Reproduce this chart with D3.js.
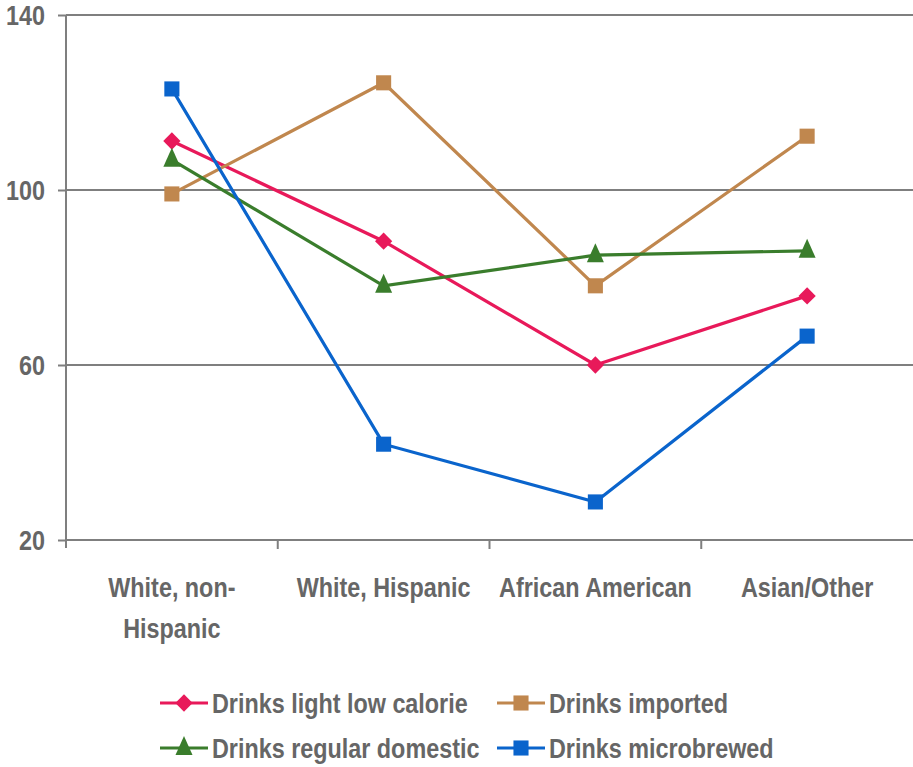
<!DOCTYPE html>
<html>
<head>
<meta charset="utf-8">
<script src="https://cdn.jsdelivr.net/npm/d3@7"></script>
<style>
  body { margin: 0; background: #fff; }
  text { font-family: "Liberation Sans", Arial, sans-serif; font-weight: bold; fill: #666; }
</style>
</head>
<body>
<svg id="chart"></svg>
<script>
// categories and series values
const categories = ["White, non-Hispanic", "White, Hispanic", "African American", "Asian/Other"];
const lightLowCalorie = [111.2, 88.3, 60, 75.8];
const imported = [99.1, 124.5, 78.1, 112.3];
const regularDomestic = [106.9, 78.1, 85.1, 86.1];
const microbrewed = [123.1, 41.9, 28.7, 66.6];
const yTicks = [20, 60, 100, 140];

const series = [
    {name: "Drinks light low calorie", values: lightLowCalorie, color: "#e8195a", shape: "diamond"},
    {name: "Drinks imported", values: imported, color: "#c0874e", shape: "square"},
    {name: "Drinks regular domestic", values: regularDomestic, color: "#3a7d2c", shape: "triangle"},
    {name: "Drinks microbrewed", values: microbrewed, color: "#0a64cc", shape: "square"}
];

const width = 913, height = 767;
const margin = {top: 15, right: 0, bottom: 227, left: 66};
const FONT = 28.5;
const NARROW = 0.82; // squeeze the text like a narrow font

const svg = d3.select("#chart")
    .attr("width", width)
    .attr("height", height);

const x = d3.scaleBand()
    .domain(categories)
    .range([margin.left, width - margin.right]);

const y = d3.scaleLinear()
    .domain([20, 140])
    .range([height - margin.bottom, margin.top]);

// gridlines
svg.append("g")
    .selectAll("line")
    .data(yTicks.filter(d => d !== 20))
    .join("line")
    .attr("x1", margin.left)
    .attr("x2", width - margin.right)
    .attr("y1", d => y(d))
    .attr("y2", d => y(d))
    .attr("stroke", "#7f7f7f")
    .attr("stroke-width", 2);

// y axis
const yAxis = svg.append("g")
    .attr("transform", `translate(${margin.left},0)`)
    .call(d3.axisLeft(y).tickValues(yTicks).tickSize(8));
yAxis.select(".domain").attr("stroke", "#7f7f7f").attr("stroke-width", 2)
    .attr("d", `M0,${y(140)}V${y(20) + 8}`);
yAxis.selectAll(".tick line").attr("stroke", "#7f7f7f").attr("stroke-width", 2);
yAxis.selectAll(".tick text")
    .attr("x", 0)
    .attr("transform", `translate(-21,0) scale(${NARROW},1)`)
    .style("font-size", FONT + "px");

// x axis
const xAxis = svg.append("g")
    .attr("transform", `translate(0,${y(20)})`)
    .call(d3.axisBottom(x).tickSize(0).tickFormat(""));
xAxis.select(".domain").attr("stroke", "#7f7f7f").attr("stroke-width", 2)
    .attr("d", `M${margin.left},0H${width}`);

// category separators
svg.append("g")
    .selectAll("line")
    .data(categories.slice(1))
    .join("line")
    .attr("x1", d => x(d))
    .attr("x2", d => x(d))
    .attr("y1", y(20))
    .attr("y2", y(20) + 9)
    .attr("stroke", "#7f7f7f")
    .attr("stroke-width", 2);

// category labels, wrapping the first one like the original
const catLines = {"White, non-Hispanic": ["White, non-", "Hispanic"]};
svg.append("g")
    .selectAll("g")
    .data(categories)
    .join("g")
    .attr("transform", d => `translate(${x(d) + x.bandwidth() / 2},${y(20) + 57}) scale(${NARROW},1)`)
    .each(function(d) {
        const lines = catLines[d] || [d];
        d3.select(this).selectAll("text")
            .data(lines)
            .join("text")
            .attr("text-anchor", "middle")
            .attr("y", (l, i) => i * 41)
            .style("font-size", FONT + "px")
            .text(l => l);
    });

function symbolPath(shape) {
    if (shape === "diamond") return d3.symbol(d3.symbolDiamond2, 190)();
    if (shape === "triangle") return "M0,-12L8.5,7L-8.5,7Z";
    return d3.symbol(d3.symbolSquare2, 290)();
}

const line = d3.line()
    .x((d, i) => x(categories[i]) + x.bandwidth() / 2)
    .y(d => y(d));

const lineG = svg.append("g");
series.forEach(s => {
    lineG.append("path")
        .attr("d", line(s.values))
        .attr("fill", "none")
        .attr("stroke", s.color)
        .attr("stroke-width", 3.2);
});
series.forEach(s => {
    lineG.append("g")
        .selectAll("path")
        .data(s.values)
        .join("path")
        .attr("transform", (d, i) => `translate(${x(categories[i]) + x.bandwidth() / 2},${y(d)})`)
        .attr("d", symbolPath(s.shape))
        .attr("fill", s.color);
});

// legend
const legendX = [160, 497];
const legendY = [703, 748];
const legend = svg.append("g");
series.forEach((s, i) => {
    const lx = legendX[i % 2], ly = legendY[Math.floor(i / 2)];
    const g = legend.append("g").attr("transform", `translate(${lx},${ly})`);
    g.append("line")
        .attr("x1", 0).attr("x2", 48)
        .attr("y1", 0).attr("y2", 0)
        .attr("stroke", s.color)
        .attr("stroke-width", 3.2);
    g.append("path")
        .attr("transform", "translate(24,0)")
        .attr("d", symbolPath(s.shape))
        .attr("fill", s.color);
    g.append("text")
        .attr("transform", `translate(52,0) scale(${NARROW},1)`)
        .attr("dy", "0.35em")
        .style("font-size", FONT + "px")
        .text(s.name);
});
</script>
</body>
</html>
